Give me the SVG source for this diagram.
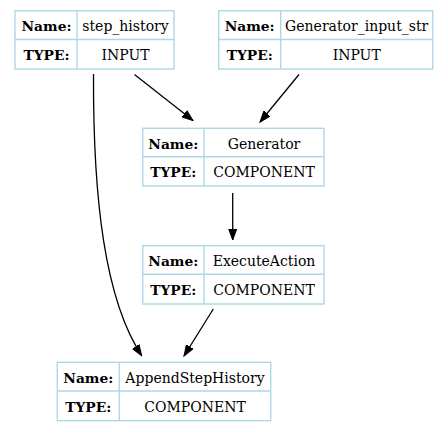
<svg xmlns="http://www.w3.org/2000/svg" width="448" height="432" viewBox="0 0 448 432">
<style>
.box{fill:#ffffff;stroke:#add8e6;stroke-width:1.4}
.ln{stroke:#add8e6;stroke-width:1.4}
text{font-family:"DejaVu Serif","Liberation Serif",serif;font-size:14px;fill:#000;text-anchor:middle}
.k{font-weight:bold;font-size:13.8px}
.e{fill:none;stroke:#000;stroke-width:1.3}
</style>
<defs>
<marker id="ah" markerUnits="userSpaceOnUse" markerWidth="12" markerHeight="9" refX="11" refY="4.5" orient="auto">
<path d="M0,0.5 L11,4.5 L0,8.5 z" fill="#000" stroke="#000" stroke-width="1"/>
</marker>
</defs>
<rect width="448" height="432" fill="#fff"/>
<g id="edges">
<path class="e" d="M134.5,74.5 L193,120.5" marker-end="url(#ah)"/>
<path class="e" d="M299,74.5 L260,122" marker-end="url(#ah)"/>
<path class="e" d="M232.7,193 L232.7,240" marker-end="url(#ah)"/>
<path class="e" d="M213.3,309 L184,356" marker-end="url(#ah)"/>
<path class="e" d="M93.5,74 C93,200 105,300 141.7,355.7" marker-end="url(#ah)"/>
</g>
<g id="step_history">
<rect class="box" x="15" y="10.7" width="159" height="58.3"/>
<line class="ln" x1="77" y1="10.7" x2="77" y2="69"/>
<line class="ln" x1="15" y1="39.5" x2="174" y2="39.5"/>
<text class="k" x="46.5" y="31">Name:</text>
<text x="125.5" y="31">step_history</text>
<text class="k" x="46.5" y="60">TYPE:</text>
<text x="125.5" y="60">INPUT</text>
</g>
<g id="Generator_input_str">
<rect class="box" x="218.7" y="10.7" width="214" height="58.3"/>
<line class="ln" x1="280.7" y1="10.7" x2="280.7" y2="69"/>
<line class="ln" x1="218.7" y1="39.5" x2="432.7" y2="39.5"/>
<text class="k" x="249.7" y="31">Name:</text>
<text x="356.7" y="31">Generator_input_str</text>
<text class="k" x="249.7" y="60">TYPE:</text>
<text x="356.7" y="60">INPUT</text>
</g>
<g id="Generator">
<rect class="box" x="142.7" y="128.3" width="181.3" height="57.7"/>
<line class="ln" x1="204" y1="128.3" x2="204" y2="186"/>
<line class="ln" x1="142.7" y1="156.7" x2="324" y2="156.7"/>
<text class="k" x="173.3" y="148.5">Name:</text>
<text x="264" y="148.5">Generator</text>
<text class="k" x="173.3" y="177.3">TYPE:</text>
<text x="264" y="177.3">COMPONENT</text>
</g>
<g id="ExecuteAction">
<rect class="box" x="142.7" y="245.7" width="181.3" height="58.3"/>
<line class="ln" x1="204" y1="245.7" x2="204" y2="304"/>
<line class="ln" x1="142.7" y1="274.3" x2="324" y2="274.3"/>
<text class="k" x="173.3" y="266">Name:</text>
<text x="264" y="266">ExecuteAction</text>
<text class="k" x="173.3" y="295.2">TYPE:</text>
<text x="264" y="295.2">COMPONENT</text>
</g>
<g id="AppendStepHistory">
<rect class="box" x="57.3" y="362.3" width="213.4" height="58.4"/>
<line class="ln" x1="119.3" y1="362.3" x2="119.3" y2="420.7"/>
<line class="ln" x1="57.3" y1="391" x2="270.7" y2="391"/>
<text class="k" x="88.3" y="383">Name:</text>
<text x="195" y="383">AppendStepHistory</text>
<text class="k" x="88.3" y="412">TYPE:</text>
<text x="195" y="412">COMPONENT</text>
</g>
</svg>
